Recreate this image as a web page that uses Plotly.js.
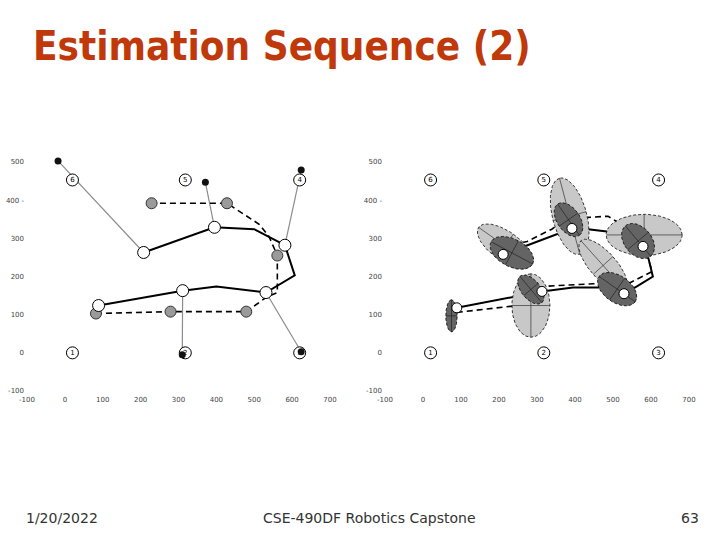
<!DOCTYPE html>
<html><head><meta charset="utf-8">
<script src="https://cdn.plot.ly/plotly-3.0.1.min.js"></script>
<style>html,body{margin:0;padding:0;background:#fff;}#chart{width:720px;height:540px;}</style>
</head><body><div id="chart"></div>
<script>
// ---- Data ----
const tickVals = [-100, 0, 100, 200, 300, 400, 500, 600, 700];
const tickText = ['-100', '0', '100', '200', '300', '400', '500', '600', '700'];
const yTickVals = [-100, 0, 100, 200, 300, 400, 500];
const yTickText = ['-100', '0', '100', '200', '300', '400 -', '500'];

// landmarks (same in both panels)
const lmX = [20, 318, 620, 620, 318, 20];
const lmY = [0, 0, 0, 453, 453, 453];
const lmLabel = ['1', '2', '3', '4', '5', '6'];

// left panel
const poseLX = [89, 311, 531, 581, 395, 208];
const poseLY = [124, 163, 158, 282, 329, 263];
const solidLX = [89, 311, 400, 531, 607, 581, 500, 395, 208];
const solidLY = [124, 163, 174, 158, 203, 282, 324, 329, 263];
const odoLX = [82, 279, 479, 561, 428, 229];
const odoLY = [103, 108, 108, 255, 392, 392];
const dashLX = [82, 279, 479, 531, 561, 561, 539, 513, 428, 229];
const dashLY = [103, 108, 108, 145, 158, 255, 305, 337, 392, 392];
const obsX = [-18, 371, 624, 310, 624];
const obsY = [503, 447, 479, -5, 3];
const obsPose = [5, 4, 3, 1, 2];

// right panel
const poseRX = [89, 313, 529, 579, 392, 211];
const poseRY = [118, 161, 155, 279, 326, 258];
const solidRX = [89, 313, 395, 466, 529, 563, 605, 592, 579, 484, 434, 392, 211];
const solidRY = [118, 161, 171, 171, 155, 174, 200, 253, 279, 318, 324, 326, 258];
const dashRX = [89, 240, 282, 313, 466, 530, 545, 603, 592, 582, 487, 434, 386, 339, 274, 216];
const dashRY = [106, 123, 135, 174, 182, 180, 184, 213, 250, 300, 358, 355, 358, 324, 292, 280];

// predicted (light) covariance ellipses
const lightCx = [284, 216, 386, 582, 474];
const lightCy = [124, 280, 358, 309, 229];
const lightA = [83, 85, 103, 100, 87];
const lightB = [50, 38, 45, 54, 35];
const lightAng = [90, -35, 105, 0, -48];
// corrected (dark) covariance ellipses
const darkCx = [75, 284, 234, 383, 566, 511];
const darkCy = [97, 166, 262, 349, 293, 167];
const darkA = [42, 45, 62, 50, 52, 58];
const darkB = [15, 25, 36, 30, 36, 35];
const darkAng = [90, -50, -28, -55, -50, -35];

// ---- Helpers ----
function ellipse(cx, cy, a, b, deg) {
  const t = deg * Math.PI / 180, xs = [], ys = [];
  for (let i = 0; i <= 90; i++) {
    const u = 2 * Math.PI * i / 90;
    const ex = a * Math.cos(u), ey = b * Math.sin(u);
    xs.push(cx + ex * Math.cos(t) - ey * Math.sin(t));
    ys.push(cy + ex * Math.sin(t) + ey * Math.cos(t));
  }
  return [xs, ys];
}
function axesCross(cx, cy, a, b, deg) {
  const t = deg * Math.PI / 180;
  const c = Math.cos(t), s = Math.sin(t);
  return [[cx - a * c, cx + a * c, null, cx + b * s, cx - b * s, null],
          [cy - a * s, cy + a * s, null, cy - b * c, cy + b * c, null]];
}

const traces = [];
const L = {xaxis: 'x', yaxis: 'y', cliponaxis: false}, R = {xaxis: 'x2', yaxis: 'y2', cliponaxis: false};

// ---- Left panel ----
const mx = [], my = [];
obsX.forEach((ox, i) => { mx.push(poseLX[obsPose[i]], ox, null); my.push(poseLY[obsPose[i]], obsY[i], null); });
traces.push(Object.assign({type: 'scatter', mode: 'lines', x: mx, y: my, line: {color: '#8c8c8c', width: 1.2}}, L));
traces.push(Object.assign({type: 'scatter', mode: 'lines', x: dashLX, y: dashLY, line: {color: '#000', width: 1.6, dash: '6px,4px'}}, L));
traces.push(Object.assign({type: 'scatter', mode: 'lines', x: solidLX, y: solidLY, line: {color: '#000', width: 2}}, L));
traces.push(Object.assign({type: 'scatter', mode: 'markers+text', x: lmX, y: lmY, text: lmLabel, textposition: 'middle center', textfont: {size: 7, color: '#000', family: 'DejaVu Sans'}, marker: {size: 12, color: '#fff', line: {color: '#000', width: 1}}}, L));
traces.push(Object.assign({type: 'scatter', mode: 'markers', x: odoLX, y: odoLY, marker: {size: 11, color: '#9a9a9a', line: {color: '#333', width: 1}}}, L));
traces.push(Object.assign({type: 'scatter', mode: 'markers', x: poseLX, y: poseLY, marker: {size: 12, color: '#fff', line: {color: '#000', width: 1}}}, L));
traces.push(Object.assign({type: 'scatter', mode: 'markers', x: obsX, y: obsY, marker: {size: 7, color: '#111'}}, L));

// ---- Right panel ----
traces.push(Object.assign({type: 'scatter', mode: 'markers+text', x: lmX, y: lmY, text: lmLabel, textposition: 'middle center', textfont: {size: 7, color: '#000', family: 'DejaVu Sans'}, marker: {size: 12, color: '#fff', line: {color: '#000', width: 1}}}, R));
traces.push(Object.assign({type: 'scatter', mode: 'lines', x: dashRX, y: dashRY, line: {color: '#000', width: 1.6, dash: '6px,4px'}}, R));
traces.push(Object.assign({type: 'scatter', mode: 'lines', x: solidRX, y: solidRY, line: {color: '#000', width: 2}}, R));
lightCx.forEach((cx, i) => {
  const [ex, ey] = ellipse(cx, lightCy[i], lightA[i], lightB[i], lightAng[i]);
  traces.push(Object.assign({type: 'scatter', mode: 'lines', x: ex, y: ey, fill: 'toself', fillcolor: '#c8c8c8', line: {color: '#222', width: 0.9, dash: '3px,2px'}}, R));
  const [ax, ay] = axesCross(cx, lightCy[i], lightA[i], lightB[i], lightAng[i]);
  traces.push(Object.assign({type: 'scatter', mode: 'lines', x: ax, y: ay, line: {color: '#333', width: 0.7}}, R));
});
darkCx.forEach((cx, i) => {
  const [ex, ey] = ellipse(cx, darkCy[i], darkA[i], darkB[i], darkAng[i]);
  traces.push(Object.assign({type: 'scatter', mode: 'lines', x: ex, y: ey, fill: 'toself', fillcolor: '#646464', line: {color: '#111', width: 0.9, dash: '3px,2px'}}, R));
  const [ax, ay] = axesCross(cx, darkCy[i], darkA[i], darkB[i], darkAng[i]);
  traces.push(Object.assign({type: 'scatter', mode: 'lines', x: ax, y: ay, line: {color: '#222', width: 0.7}}, R));
});
traces.push(Object.assign({type: 'scatter', mode: 'markers', x: poseRX, y: poseRY, marker: {size: 10, color: '#fff', line: {color: '#000', width: 1}}}, R));

const axCommon = {showgrid: false, zeroline: false, showline: false, ticks: '', fixedrange: true,
  tickfont: {size: 7, color: '#444', family: 'DejaVu Sans'}};
const xa = Object.assign({range: [-100, 700], tickvals: tickVals, ticktext: tickText, ticklabelstandoff: 3}, axCommon);
const ya = Object.assign({range: [-100, 510], tickvals: yTickVals, ticktext: yTickText, ticklabelstandoff: 2}, axCommon);

const layout = {
  width: 720, height: 540, showlegend: false,
  paper_bgcolor: '#fff', plot_bgcolor: '#fff',
  margin: {l: 0, r: 0, t: 0, b: 0},
  title: {text: 'Estimation Sequence (2)', x: 33 / 720, xanchor: 'left', xref: 'paper',
    y: 1 - 46 / 540, yanchor: 'middle', yref: 'container',
    font: {family: 'DejaVu Sans Condensed, DejaVu Sans', size: 40, weight: 'bold', color: '#C0390B'}},
  xaxis: Object.assign({domain: [0.0375, 0.4583], anchor: 'y'}, xa),
  yaxis: Object.assign({domain: [0.2759, 0.7070], anchor: 'x'}, ya),
  xaxis2: Object.assign({domain: [0.5347, 0.9569], anchor: 'y2'}, xa),
  yaxis2: Object.assign({domain: [0.2759, 0.7070], anchor: 'x2'}, ya),
  annotations: [
    {text: '1/20/2022', x: 24 / 720, xanchor: 'left', y: 1 - 518 / 540, yanchor: 'middle', xref: 'paper', yref: 'paper', showarrow: false, font: {family: 'DejaVu Sans', size: 14, color: '#333'}},
    {text: 'CSE-490DF Robotics Capstone', x: 370 / 720, xanchor: 'center', y: 1 - 518 / 540, yanchor: 'middle', xref: 'paper', yref: 'paper', showarrow: false, font: {family: 'DejaVu Sans', size: 14, color: '#333'}},
    {text: '63', x: 701 / 720, xanchor: 'right', y: 1 - 518 / 540, yanchor: 'middle', xref: 'paper', yref: 'paper', showarrow: false, font: {family: 'DejaVu Sans', size: 14, color: '#333'}}
  ]
};
Plotly.newPlot('chart', traces, layout, {staticPlot: true, displayModeBar: false});
</script></body></html>
